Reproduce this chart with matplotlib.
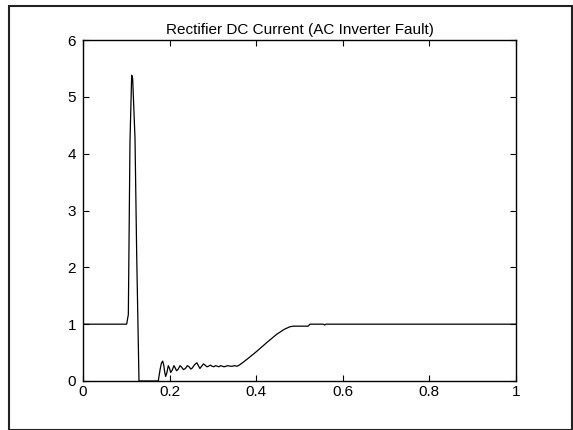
import matplotlib.pyplot as plt
from matplotlib.patches import Rectangle

plt.rcParams['font.family'] = ['Liberation Sans', 'DejaVu Sans']

# rectifier dc current samples (time in s, current in pu)
t = [0.0, 0.1008, 0.1047, 0.1085, 0.1124, 0.1147, 0.1201, 0.1240, 0.1293,
     0.1740, 0.1750, 0.1780, 0.1810, 0.1840, 0.1865, 0.1890, 0.1910, 0.1935,
     0.1970, 0.2000, 0.2025, 0.2060, 0.2100, 0.2130, 0.2160, 0.2200, 0.2240,
     0.2280, 0.2320, 0.2365, 0.2410, 0.2450, 0.2490, 0.2525, 0.2560, 0.2595,
     0.2630, 0.2665, 0.2700, 0.2740, 0.2780, 0.2820, 0.2860, 0.2900, 0.2940,
     0.2980, 0.3020, 0.3060, 0.3100, 0.3140, 0.3180, 0.3220, 0.3260, 0.3300,
     0.3350, 0.3400, 0.3450, 0.3500, 0.3550, 0.3590,
     0.3700, 0.3850, 0.4010, 0.4250, 0.4470, 0.4650, 0.4780, 0.4860,
     0.5200, 0.5240, 0.5550, 0.5580, 0.5610, 1.0]
i_dc = [1.0, 1.0, 1.17, 4.21, 5.38, 5.32, 4.27, 2.22, 0.0,
        0.0, 0.06, 0.20, 0.31, 0.35, 0.28, 0.14, 0.08, 0.14,
        0.27, 0.22, 0.15, 0.19, 0.27, 0.23, 0.18, 0.21, 0.27,
        0.24, 0.20, 0.22, 0.27, 0.25, 0.21, 0.23, 0.27, 0.30,
        0.32, 0.27, 0.22, 0.26, 0.30, 0.28, 0.25, 0.26, 0.28,
        0.26, 0.25, 0.27, 0.26, 0.25, 0.27, 0.26, 0.25, 0.26,
        0.27, 0.26, 0.26, 0.27, 0.26, 0.27,
        0.33, 0.42, 0.52, 0.68, 0.82, 0.91, 0.955, 0.965,
        0.965, 1.0, 1.0, 0.985, 1.0, 1.0]

fig = plt.figure(figsize=(5.73, 4.30), dpi=100)
ax = fig.add_axes([83 / 573, 49 / 430, 433 / 573, 341 / 430])

ax.plot(t, i_dc, color='black', linewidth=0.9)

ax.set_xlim(0, 1)
ax.set_ylim(0, 6)
ax.set_xticks([0, 0.2, 0.4, 0.6, 0.8, 1])
ax.set_xticklabels(['0', '0.2', '0.4', '0.6', '0.8', '1'])
ax.set_yticks(range(0, 7))
ax.tick_params(direction='in', length=4, width=0.8, top=True, right=True,
               labelsize=11, pad=5, colors='black')
ax.tick_params(axis='x', pad=3)
for s in ax.spines.values():
    s.set_linewidth(1.0)
ax.set_title('Rectifier DC Current (AC Inverter Fault)', fontsize=11, pad=4)

# frame around the whole figure
fig.patches.append(Rectangle((9 / 573, 0.0), 563 / 573, 424 / 430,
                             transform=fig.transFigure, fill=False,
                             edgecolor='#222222', linewidth=1.5))

fig.savefig('out.png', dpi=100)
